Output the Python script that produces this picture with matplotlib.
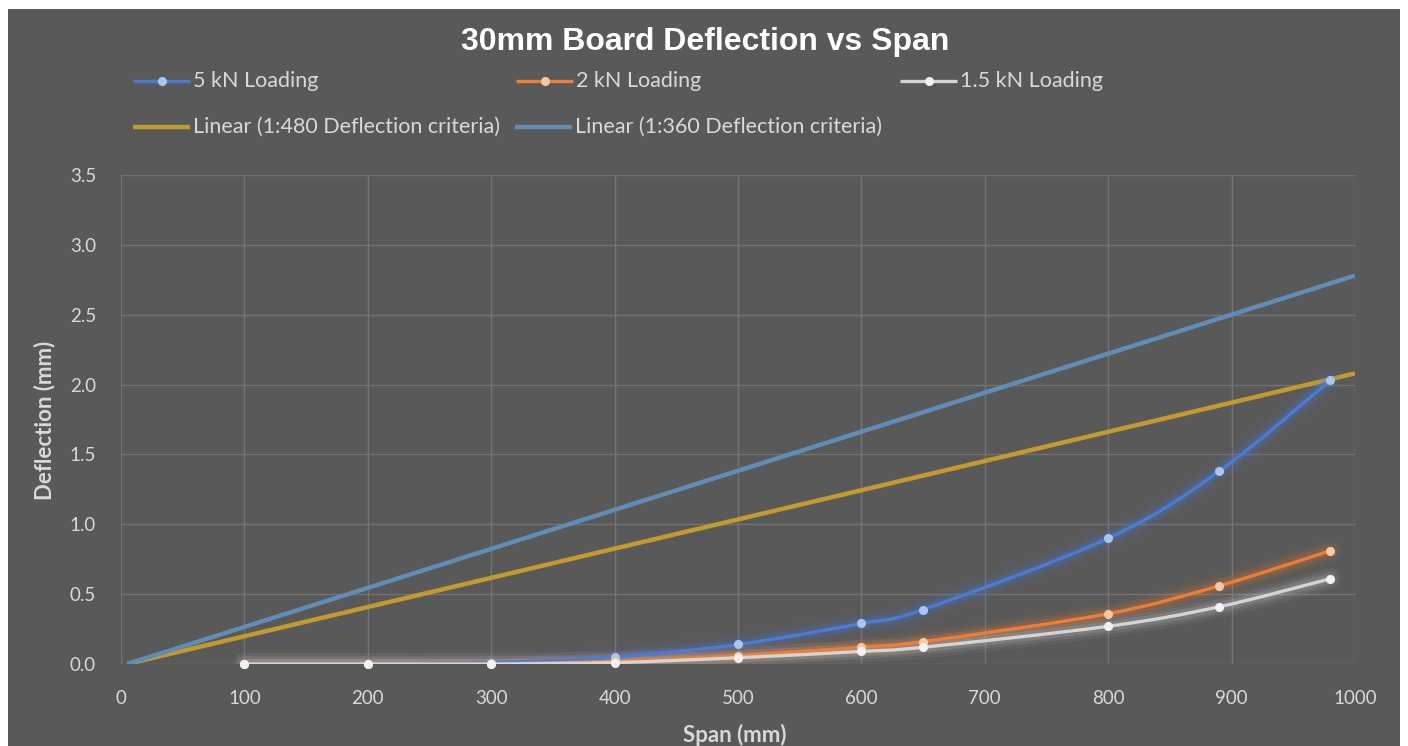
import matplotlib
matplotlib.use('Agg')
import matplotlib.pyplot as plt
from matplotlib.path import Path
from matplotlib.patches import PathPatch, Rectangle
from matplotlib.lines import Line2D

# ---------------- data ----------------
span = [100, 200, 300, 400, 500, 600, 650, 800, 890, 980]
defl_5kn = [0.0, 0.0, 0.01, 0.05, 0.14, 0.29, 0.39, 0.90, 1.38, 2.03]
defl_2kn = [0.0, 0.0, 0.0, 0.02, 0.06, 0.12, 0.16, 0.36, 0.56, 0.81]
defl_15kn = [0.0, 0.0, 0.0, 0.01, 0.045, 0.09, 0.12, 0.27, 0.41, 0.61]
crit_span = [5, 1000]
crit_480 = [0.0, 2.08]
crit_360 = [0.0, 2.78]
x_ticks = [0, 100, 200, 300, 400, 500, 600, 700, 800, 900, 1000]
y_ticks = [0.0, 0.5, 1.0, 1.5, 2.0, 2.5, 3.0, 3.5]

series = [
    ("5 kN Loading", defl_5kn, "#4a7bd6", "#a9c6f0"),
    ("2 kN Loading", defl_2kn, "#ee7d35", "#f8c7a3"),
    ("1.5 kN Loading", defl_15kn, "#d4d4d4", "#f2f2f2"),
]
criteria = [
    ("Linear (1:480 Deflection criteria)", crit_480, "#c29b2e"),
    ("Linear (1:360 Deflection criteria)", crit_360, "#5f8db6"),
]

BG = "#595959"
TXT = "#d9d9d9"
W, H = 1408, 746

def fx(px):
    return px / W

def fy(py):
    return 1 - py / H

fig = plt.figure(figsize=(W / 100, H / 100), dpi=100, facecolor="white")
fig.patches.append(Rectangle((fx(8), 0), fx(1400) - fx(8), fy(9), transform=fig.transFigure,
                             facecolor=BG, edgecolor="none", zorder=-10))

ax = fig.add_axes([fx(121), fy(664), fx(1355) - fx(121), fy(175) - fy(664)])
ax.set_facecolor(BG)
ax.patch.set_alpha(0)
ax.set_xlim(0, 1000)
ax.set_ylim(0, 3.5)
ax.set_xticks(x_ticks)
ax.set_yticks(y_ticks)
ax.set_xticklabels([str(t) for t in x_ticks])
ax.set_yticklabels([f"{t:.1f}" for t in y_ticks])
ax.grid(True, color="#737373", linewidth=1.0)
ax.set_axisbelow(True)
for s in ax.spines.values():
    s.set_visible(False)
ax.tick_params(length=0, colors=TXT, labelsize=13.5)
ax.tick_params(axis="x", pad=19)
ax.tick_params(axis="y", pad=18)
for lab in ax.get_xticklabels() + ax.get_yticklabels():
    lab.set_fontfamily("Lato")
    lab.set_color(TXT)

def smooth_path(xs, ys):
    pts = list(zip(xs, ys))
    verts = [pts[0]]
    codes = [Path.MOVETO]
    n = len(pts)
    for i in range(n - 1):
        p0 = pts[i - 1] if i > 0 else pts[i]
        p1 = pts[i]
        p2 = pts[i + 1]
        p3 = pts[i + 2] if i + 2 < n else pts[i + 1]
        c1 = (p1[0] + (p2[0] - p0[0]) / 6, p1[1] + (p2[1] - p0[1]) / 6)
        c2 = (p2[0] - (p3[0] - p1[0]) / 6, p2[1] - (p3[1] - p1[1]) / 6)
        verts += [c1, c2, p2]
        codes += [Path.CURVE4] * 3
    return Path(verts, codes)

# criteria lines
for name, vals, col in criteria:
    ax.plot(crit_span, vals, color=col, linewidth=3.2, solid_capstyle="butt", zorder=3)

# loading series with glow
for name, vals, col, mcol in series:
    p = smooth_path(span, vals)
    for lw, a in [(16, 0.06), (11, 0.10), (7, 0.16)]:
        ax.add_patch(PathPatch(p, facecolor="none", edgecolor=col, linewidth=lw, alpha=a,
                               capstyle="round", zorder=4))
    ax.add_patch(PathPatch(p, facecolor="none", edgecolor=col, linewidth=2.4, zorder=5))
    ax.plot(span, vals, linestyle="none", marker="o", markersize=5.5, markerfacecolor=mcol,
            markeredgecolor=mcol, zorder=6, clip_on=False)

# title & axis labels
fig.text(fx(705), fy(42), "30mm Board Deflection vs Span", ha="center", va="center",
         fontsize=23, fontweight="bold", color="white", family="Liberation Sans")
fig.text(fx(735), fy(735), "Span (mm)", ha="center", va="center", fontsize=16,
         fontweight="bold", color=TXT, family="Lato")
fig.text(fx(45), fy(420), "Deflection (mm)", ha="center", va="center", rotation=90,
         fontsize=16, fontweight="bold", color=TXT, family="Lato")

# legend (manual layout)
leg_items = [
    (133, 81, series[0][0], series[0][2], series[0][3]),
    (516, 81, series[1][0], series[1][2], series[1][3]),
    (900, 81, series[2][0], series[2][2], series[2][3]),
    (133, 127, criteria[0][0], criteria[0][2], None),
    (515, 127, criteria[1][0], criteria[1][2], None),
]
for x0, y0, name, col, mcol in leg_items:
    lw = 2.4 if mcol else 3.2
    fig.add_artist(Line2D([fx(x0), fx(x0 + 57)], [fy(y0), fy(y0)], color=col, linewidth=lw,
                          transform=fig.transFigure, solid_capstyle="butt"))
    if mcol:
        fig.add_artist(Line2D([fx(x0 + 28.5)], [fy(y0)], marker="o", markersize=5.5,
                              markerfacecolor=mcol, markeredgecolor=mcol, linestyle="none",
                              transform=fig.transFigure))
    fig.text(fx(x0 + 60), fy(y0), name, ha="left", va="center", fontsize=15.5,
             color=TXT, family="Lato")

fig.savefig("out.png", dpi=100, facecolor="white")
